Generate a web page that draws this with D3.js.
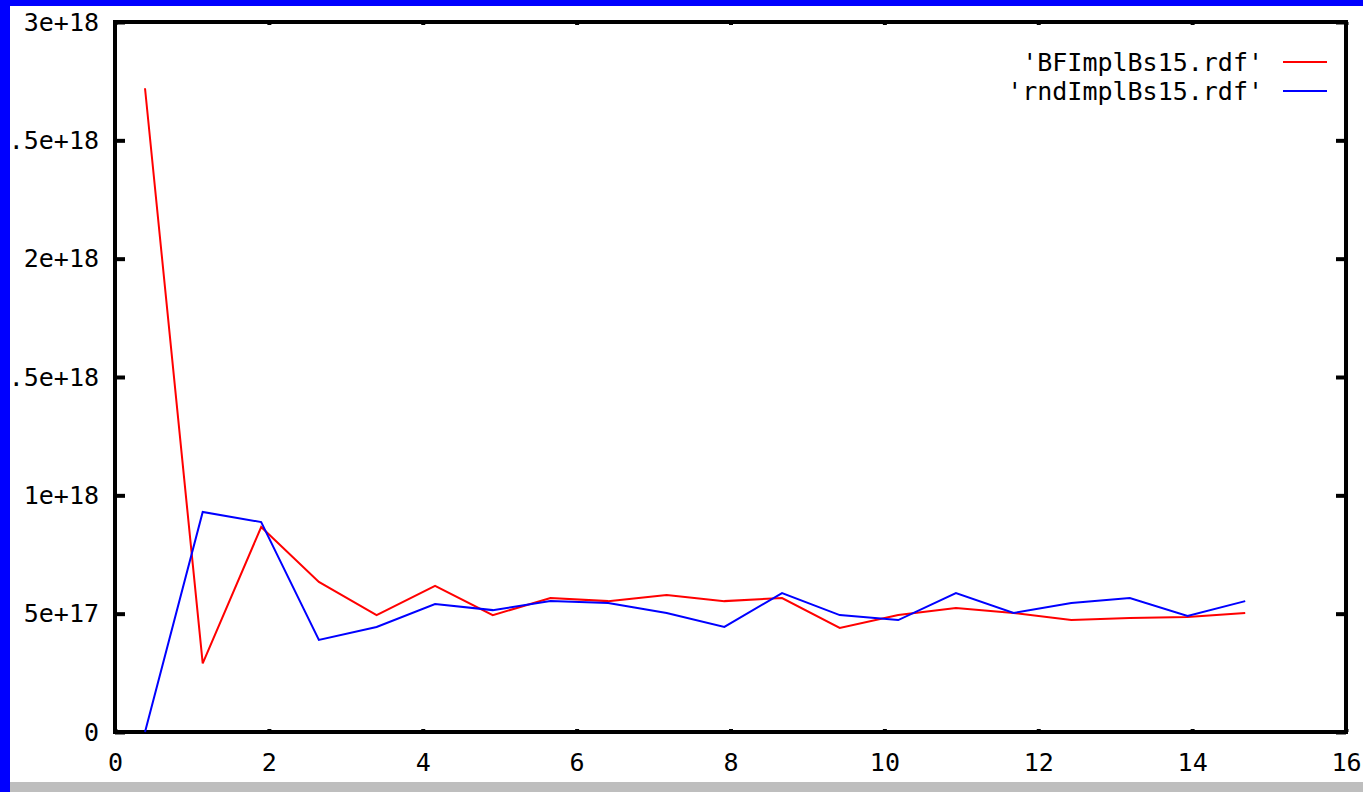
<!DOCTYPE html>
<html>
<head>
    <title>BFImplBs15 vs rndImplBs15</title>
    <script src="https://cdn.jsdelivr.net/npm/d3@7/dist/d3.min.js"></script>
    <style>
        body { margin: 0; background: #fff; }
        svg { display: block; }
        text { font-family: "DejaVu Sans Mono", monospace; font-size: 25px; fill: #000; }
    </style>
</head>
<body>
    <div id="chart"></div>

    <script>
        // 数据
        const xValues = [0.39, 1.14, 1.9, 2.65, 3.4, 4.16, 4.91, 5.66, 6.41, 7.17,
                         7.92, 8.67, 9.42, 10.18, 10.93, 11.68, 12.43, 13.19, 13.94, 14.69];
        const bfValues = [2.72e18, 0.29e18, 0.866e18, 0.634e18, 0.494e18, 0.617e18, 0.494e18, 0.566e18, 0.553e18, 0.579e18,
                          0.553e18, 0.566e18, 0.44e18, 0.494e18, 0.524e18, 0.503e18, 0.473e18, 0.482e18, 0.486e18, 0.503e18];
        const rndValues = [0, 0.93e18, 0.887e18, 0.389e18, 0.444e18, 0.541e18, 0.515e18, 0.553e18, 0.545e18, 0.503e18,
                           0.444e18, 0.587e18, 0.494e18, 0.473e18, 0.587e18, 0.503e18, 0.545e18, 0.566e18, 0.49e18, 0.553e18];
        const seriesNames = ["'BFImplBs15.rdf'", "'rndImplBs15.rdf'"];
        const seriesColors = ["#ff0000", "#0000ff"];

        // 刻度
        const xTicks = [0, 2, 4, 6, 8, 10, 12, 14, 16];
        const yTicks = [0, 5e17, 1e18, 1.5e18, 2e18, 2.5e18, 3e18];
        const yTickLabels = ["0", "5e+17", "1e+18", "1.5e+18", "2e+18", "2.5e+18", "3e+18"];

        const W = 1363, H = 792;
        const svg = d3.select("#chart").append("svg").attr("width", W).attr("height", H);

        const x = d3.scaleLinear().domain([0, 16]).range([115, 1346]);
        const y = d3.scaleLinear().domain([0, 3e18]).range([732, 22]);

        // 坐标轴
        const styleAxis = g => {
            g.select(".domain").remove();
            g.selectAll("line").attr("stroke", "#000").attr("stroke-width", 4);
            g.selectAll("text").attr("font-family", null).attr("font-size", null);
        };

        svg.append("g").attr("transform", `translate(${x(0)},0)`)
            .call(d3.axisLeft(y).tickValues(yTicks)
                .tickFormat((d, i) => yTickLabels[i])
                .tickSize(-10).tickPadding(16))
            .call(styleAxis);

        svg.append("g").attr("transform", `translate(${x(16)},0)`)
            .call(d3.axisRight(y).tickValues(yTicks).tickFormat("").tickSize(-10))
            .call(styleAxis);

        svg.append("g").attr("transform", `translate(0,${y(0)})`)
            .call(d3.axisBottom(x).tickValues(xTicks).tickSize(-3).tickPadding(21))
            .call(styleAxis);

        svg.append("g").attr("transform", `translate(0,${y(3e18)})`)
            .call(d3.axisTop(x).tickValues(xTicks).tickFormat("").tickSize(-3))
            .call(styleAxis);

        // 边框
        svg.append("rect")
            .attr("x", x(0)).attr("y", y(3e18))
            .attr("width", x(16) - x(0)).attr("height", y(0) - y(3e18))
            .attr("fill", "none").attr("stroke", "#000").attr("stroke-width", 4);

        // 折线
        const line = d3.line().x(d => x(d[0])).y(d => y(d[1]));
        [bfValues, rndValues].forEach((vals, i) => {
            svg.append("path")
                .datum(xValues.map((xv, j) => [xv, vals[j]]))
                .attr("d", line)
                .attr("fill", "none")
                .attr("stroke", seriesColors[i])
                .attr("stroke-width", 2);
        });

        // 图例
        const legend = svg.append("g");
        seriesNames.forEach((name, i) => {
            const ly = 62 + i * 29;
            legend.append("text")
                .attr("x", 1263).attr("y", ly).attr("dy", "0.35em")
                .attr("text-anchor", "end")
                .text(name);
            legend.append("line")
                .attr("x1", 1283).attr("x2", 1327)
                .attr("y1", ly).attr("y2", ly)
                .attr("stroke", seriesColors[i]).attr("stroke-width", 2);
        });

        // 窗口边框（蓝色和灰色）
        svg.append("rect").attr("x", 0).attr("y", 0).attr("width", 10).attr("height", H).attr("fill", "#0000ff");
        svg.append("rect").attr("x", 0).attr("y", 0).attr("width", W).attr("height", 6).attr("fill", "#0000ff");
        svg.append("rect").attr("x", 10).attr("y", 782).attr("width", W - 10).attr("height", 10).attr("fill", "#bebebe");
    </script>
</body>
</html>
